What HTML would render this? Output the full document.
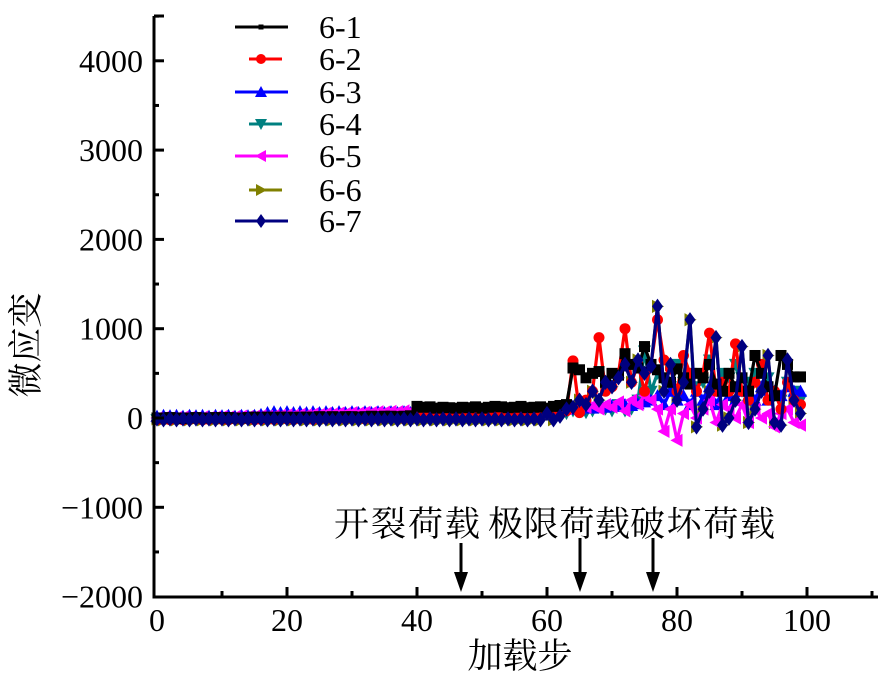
<!DOCTYPE html>
<html><head><meta charset="utf-8"><style>
html,body{margin:0;padding:0;background:#fff;}
svg{display:block;}
text{font-family:"Liberation Serif","Noto Serif CJK SC",serif;fill:#000;}
</style></head><body>
<svg id="chart" width="882" height="687" viewBox="0 0 882 687">
<g id="marks"></g>
<g id="axes"></g>
<g id="legend"></g>
<g>
<text x="334" y="536" font-size="35" textLength="146">开裂荷载</text>
<text x="488" y="536" font-size="35" textLength="142">极限荷载</text>
<text x="630" y="536" font-size="35" textLength="145">破坏荷载</text>
</g>
<text x="520" y="668" font-size="35" text-anchor="middle">加载步</text>
<text transform="translate(38,345) rotate(-90)" font-size="35" text-anchor="middle">微应变</text>
</svg>
<script>
const steps=[0,1,2,3,4,5,6,7,8,9,10,11,12,13,14,15,16,17,18,19,20,21,22,23,24,25,26,27,28,29,30,31,32,33,34,35,36,37,38,39,40,41,42,43,44,45,46,47,48,49,50,51,52,53,54,55,56,57,58,59,60,61,62,63,64,65,66,67,68,69,70,71,72,73,74,75,76,77,78,79,80,81,82,83,84,85,86,87,88,89,90,91,92,93,94,95,96,97,98,99];
const s61=[0,0,5,0,-5,0,5,0,0,5,0,5,0,0,5,10,5,10,5,10,10,5,10,10,10,15,10,15,10,15,15,10,15,20,15,20,20,15,20,25,130,120,125,110,120,115,110,120,115,125,110,120,130,125,115,120,130,115,120,125,110,130,140,150,560,540,450,500,520,400,500,480,720,600,560,800,600,540,450,400,550,450,380,500,450,600,380,300,500,350,450,300,700,500,350,250,700,600,460,460];
const s62=[-20,-15,-20,-10,-20,-15,-10,-20,-15,-10,-15,-20,-10,-15,-10,-20,-15,-10,-15,-10,-10,-15,-5,-10,-15,-10,-5,-10,-5,-10,0,-5,-10,0,-5,0,5,0,-5,0,10,20,30,40,30,40,50,40,30,40,50,60,40,50,60,40,50,60,50,40,60,70,50,80,640,60,200,300,900,300,350,500,1000,400,600,300,600,1100,650,550,300,700,500,300,500,950,300,400,300,830,300,200,400,600,200,300,100,400,200,150];
const s63=[20,30,25,30,20,30,25,30,20,30,25,30,20,30,25,30,40,60,70,60,70,60,70,60,70,60,70,60,70,60,70,60,70,60,70,60,70,60,70,60,70,60,50,60,50,60,50,60,50,60,50,60,50,60,50,60,50,60,50,60,70,80,90,100,110,100,120,110,130,120,140,130,150,140,160,180,200,250,150,300,200,250,150,300,200,350,150,300,250,200,300,250,200,350,200,300,250,350,300,300];
const s64=[-20,-15,-20,-25,-20,-15,-20,-25,-20,-15,-20,-25,-20,-15,-20,-25,-20,-15,-20,-25,-20,-15,-20,-25,-20,-15,-20,-25,-20,-15,-20,-25,-20,-15,-20,-25,-20,-15,-20,-25,-10,0,-10,0,-10,0,10,0,10,20,10,20,10,20,30,20,30,20,30,40,50,40,60,50,80,100,60,80,120,100,80,150,80,100,200,750,300,500,400,350,600,400,500,350,400,650,350,500,450,600,300,400,500,350,450,250,200,400,300,200];
const s65=[0,5,0,5,10,5,0,10,5,10,15,10,15,20,15,20,25,20,25,30,35,30,40,35,45,40,50,45,55,50,60,55,65,60,70,65,75,70,80,75,90,85,95,90,100,95,100,90,105,100,95,110,100,90,100,110,100,95,105,100,110,100,120,110,100,130,120,140,100,150,120,180,80,200,150,250,200,100,-150,100,-250,50,150,0,100,200,-50,150,100,0,150,-50,100,0,50,-100,50,100,-50,-80];
const s66=[-10,-20,-10,-20,-10,-20,-10,-20,-10,-20,-10,-20,-10,-20,-10,-20,-10,-20,-10,-20,-10,-20,-10,-20,-10,-20,-10,-20,-10,-20,-10,-20,-10,-20,-10,-20,-10,-20,-10,-20,-10,-20,-10,-20,-10,-20,-10,-20,-10,-20,-10,-20,-10,-20,-10,-20,-10,-20,-10,-20,50,-20,20,100,120,200,150,300,200,400,350,450,600,400,650,500,580,1250,300,600,200,400,1100,-100,100,300,900,-80,0,200,800,-50,100,300,700,-50,-80,650,200,50];
const s67=[-10,-20,-10,-20,-10,-20,-10,-20,-10,-20,-10,-20,-10,-20,-10,-20,-10,-20,-10,-20,-10,-20,-10,-20,-10,-20,-10,-20,-10,-20,-10,-20,-10,-20,-10,-20,-10,-20,-10,-20,-10,-20,-10,-20,-10,-20,-10,-20,-10,-20,-10,-20,-10,-20,-10,-20,-10,-20,-10,-20,50,-20,20,100,120,200,150,300,200,400,350,450,600,400,650,500,580,1250,300,600,200,400,1100,-100,100,300,900,-80,0,200,800,-50,100,300,700,-50,-80,650,200,50];
const seriesNames=['6-1','6-2','6-3','6-4','6-5','6-6','6-7'];
const seriesData=[s61,s62,s63,s64,s65,s66,s67];
const colors=['#000000','#ff0000','#0000ff','#008080','#ff00ff','#808000','#000080'];
const markers=['square','circle','up','down','left','right','diamond'];
const xTicks=[0,20,40,60,80,100];
const yTicks=[-2000,-1000,0,1000,2000,3000,4000];

const NS='http://www.w3.org/2000/svg';
const X0=154,X1=878,Y0=597,Y1=16;
function xs(v){return 157+6.5*v;}
function ys(v){return 418-0.0893*v;}
function mk(tag,attrs,parent){const e=document.createElementNS(NS,tag);for(const k in attrs)e.setAttribute(k,attrs[k]);parent.appendChild(e);return e;}
function marker(type,x,y,r,c,parent){
  let e;
  if(type==='square')e=mk('rect',{x:x-r,y:y-r,width:2*r,height:2*r,fill:c},parent);
  else if(type==='circle')e=mk('circle',{cx:x,cy:y,r:r,fill:c},parent);
  else{
    let p;
    if(type==='up')p=[[x,y-r*1.2],[x-r*1.2,y+r],[x+r*1.2,y+r]];
    else if(type==='down')p=[[x,y+r*1.2],[x-r*1.2,y-r],[x+r*1.2,y-r]];
    else if(type==='left')p=[[x-r*1.2,y],[x+r,y-r*1.2],[x+r,y+r*1.2]];
    else if(type==='right')p=[[x+r*1.2,y],[x-r,y-r*1.2],[x-r,y+r*1.2]];
    else p=[[x,y-r*1.4],[x+r,y],[x,y+r*1.4],[x-r,y]];
    e=mk('polygon',{points:p.map(a=>a.join(',')).join(' '),fill:c},parent);
  }
  return e;
}
const marks=document.getElementById('marks');
const order=[5,3,2,4,1,0,6];
order.forEach(si=>{
  const d=seriesData[si];
  const g=mk('g',{},marks);
  
  
  const pts=d.map((v,i)=>xs(steps[i]).toFixed(1)+','+ys(v).toFixed(1)).join(' ');
  const pl=mk('polyline',{points:pts,fill:'none',stroke:colors[si],'stroke-width':3.2,'stroke-linejoin':'round'},g);
  
  
  d.forEach((v,i)=>{
    const m=marker(markers[si],xs(steps[i]),ys(v),5.5,colors[si],g);
    
    
  });
});
const ax=document.getElementById('axes');
const yl=mk('line',{x1:X0,y1:Y1,x2:X0,y2:Y0+1.5,stroke:'#000','stroke-width':3},ax);


const xl=mk('line',{x1:X0-1.5,y1:Y0,x2:X1,y2:Y0,stroke:'#000','stroke-width':3},ax);


mk('line',{x1:X0,y1:Y1,x2:X0+10,y2:Y1,stroke:'#000','stroke-width':3},ax);
for(let v=-1500;v<=4500;v+=500){
  const y=ys(v);if(y<Y1)continue;
  const major=v%1000===0;
  mk('line',{x1:X0,y1:y,x2:X0+(major?10:5),y2:y,stroke:'#000','stroke-width':3},ax);
}
yTicks.forEach(v=>{
  const t=mk('text',{x:143,y:ys(v)+11,'font-size':32,'text-anchor':'end'},ax);
  t.textContent=(v<0?'\u2212'+(-v):v);
  
  
});
for(let v=10;v<=110;v+=10){
  const x=xs(v);
  const major=v%20===0;
  mk('line',{x1:x,y1:Y0,x2:x,y2:Y0-(major?10:6),stroke:'#000','stroke-width':3},ax);
}
xTicks.forEach(v=>{
  const t=mk('text',{x:xs(v),y:631,'font-size':32,'text-anchor':'middle'},ax);
  t.textContent=v;
  
  
});
[[461,543],[580,538],[653,538]].forEach(a=>{
  mk('line',{x1:a[0],y1:a[1],x2:a[0],y2:578,stroke:'#000','stroke-width':3},ax);
  const p=mk('polygon',{points:`${a[0]-7},572 ${a[0]+7},572 ${a[0]},592`,fill:'#000'},ax);
  
  
});
const lg=document.getElementById('legend');
const rows=[27,59,92,124,156,190,221];
seriesNames.forEach((n,i)=>{
  const g=mk('g',{},lg);
  
  
  const short=(i===1||i===3||i===5);
  mk('line',{x1:short?249:235,y1:rows[i],x2:short?282:288,y2:rows[i],stroke:colors[i],'stroke-width':3},g);
  marker(markers[i],261,rows[i],i===0?2.5:5,colors[i],g);
  const t=mk('text',{x:319,y:rows[i]+11,'font-size':32},g);
  t.textContent=n;
});
</script>
</body></html>
